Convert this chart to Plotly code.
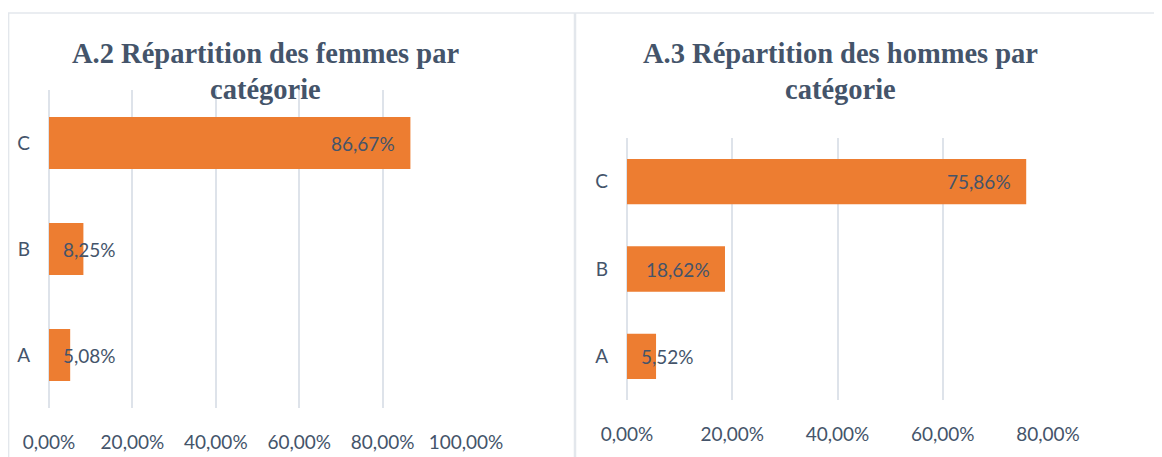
import plotly.graph_objects as go

# ---- data ----
categories = ["A", "B", "C"]
femmes_values = [5.08, 8.25, 86.67]
hommes_values = [5.52, 18.62, 75.86]
femmes_ticks = [0, 20, 40, 60, 80, 100]
hommes_ticks = [0, 20, 40, 60, 80]
title_femmes = ["A.2 Répartition des femmes par", "catégorie"]
title_hommes = ["A.3 Répartition des hommes par", "catégorie"]

W, H = 1162, 457
OX, OY = 8, 8  # page body margin of the html page
BAR = "#ED7D31"
TXT = "#44546A"
GRID = "#DEE3EA"
FRAME = "#E3E7EC"
SANS = "Lato, 'Open Sans', sans-serif"
SERIF = "'Liberation Serif', 'DejaVu Serif', serif"
LBL_SIZE = 19


def px(x):
    return (x - OX) / W


def py(y):
    return 1 - (y - OY) / H


def fmt(v):
    return f"{v:.2f}".replace(".", ",") + "%"


fig = go.Figure()

fig.add_trace(go.Bar(x=femmes_values, y=categories, orientation="h",
                     marker=dict(color=BAR, line=dict(width=0)), width=0.49,
                     xaxis="x", yaxis="y", hoverinfo="skip", showlegend=False))
fig.add_trace(go.Bar(x=hommes_values, y=categories, orientation="h",
                     marker=dict(color=BAR, line=dict(width=0)), width=0.52,
                     xaxis="x2", yaxis="y2", hoverinfo="skip", showlegend=False))

# domains (paper fractions)
dom_x1 = [px(49), px(466)]
dom_y1 = [py(408), py(90)]
dom_x2 = [px(627), px(1048)]
dom_y2 = [py(400), py(138)]

axis_common = dict(showgrid=True, gridcolor=GRID, gridwidth=1.5,
                   zeroline=True, zerolinecolor=GRID, zerolinewidth=1.5,
                   showline=False, ticks="", fixedrange=True, automargin=False,
                   tickfont=dict(family=SANS, size=LBL_SIZE, color=TXT),
                   ticklabelstandoff=21)
yaxis_common = dict(showgrid=False, zeroline=False, showline=False, ticks="",
                    fixedrange=True, type="category", automargin=False,
                    categoryorder="array", categoryarray=categories,
                    tickfont=dict(family=SANS, size=LBL_SIZE, color=TXT),
                    ticklabelstandoff=18)

fig.update_layout(
    width=W, height=H,
    margin=dict(l=0, r=0, t=0, b=0, autoexpand=False),
    paper_bgcolor="white", plot_bgcolor="white",
    xaxis=dict(domain=dom_x1, range=[0, 100], tickvals=femmes_ticks,
               ticktext=[fmt(t) for t in femmes_ticks], anchor="y", **axis_common),
    yaxis=dict(domain=dom_y1, anchor="x", **yaxis_common),
    xaxis2=dict(domain=dom_x2, range=[0, 80], tickvals=hommes_ticks,
                ticktext=[fmt(t) for t in hommes_ticks], anchor="y2", **axis_common),
    yaxis2=dict(domain=dom_y2, anchor="x2", **yaxis_common),
)

annotations = []
# titles (one annotation per line to control line spacing)
for lines, cx in [(title_femmes, 265), (title_hommes, 840)]:
    for line, cy in zip(lines, [53.5, 89.5]):
        annotations.append(dict(text=f"<b>{line}</b>", xref="paper", yref="paper",
                                x=px(cx), y=py(cy), xanchor="center", yanchor="middle",
                                showarrow=False,
                                font=dict(family=SERIF, size=28.5, color=TXT)))

# data labels (Excel "inside end" behaviour)
PAD = 13
for vals, xr, yr, dom, rng in [(femmes_values, "x", "y", dom_x1, 100),
                               (hommes_values, "x2", "y2", dom_x2, 80)]:
    px_per_unit = (dom[1] - dom[0]) * W / rng
    for cat, v in zip(categories, vals):
        label = fmt(v)
        text_w = len(label) * 0.56 * LBL_SIZE
        if v * px_per_unit >= text_w + 2 * PAD:
            annotations.append(dict(text=label, x=v, y=cat, xref=xr, yref=yr,
                                    xanchor="right", xshift=-PAD, showarrow=False,
                                    font=dict(family=SANS, size=LBL_SIZE, color=TXT)))
        else:
            annotations.append(dict(text=label, x=0, y=cat, xref=xr, yref=yr,
                                    xanchor="left", xshift=PAD - 1, showarrow=False,
                                    font=dict(family=SANS, size=LBL_SIZE, color=TXT)))
fig.update_layout(annotations=annotations)

# frame lines
fig.update_layout(shapes=[
    dict(type="line", xref="paper", yref="paper", x0=0, x1=1, y0=py(13), y1=py(13),
         line=dict(color=FRAME, width=1.5)),
    dict(type="line", xref="paper", yref="paper", x0=0.6 / W, x1=0.6 / W, y0=0, y1=py(13),
         line=dict(color=FRAME, width=1.5)),
    dict(type="line", xref="paper", yref="paper", x0=px(575), x1=px(575), y0=0, y1=py(13),
         line=dict(color=FRAME, width=2.5)),
])

fig.write_html("out.html")
